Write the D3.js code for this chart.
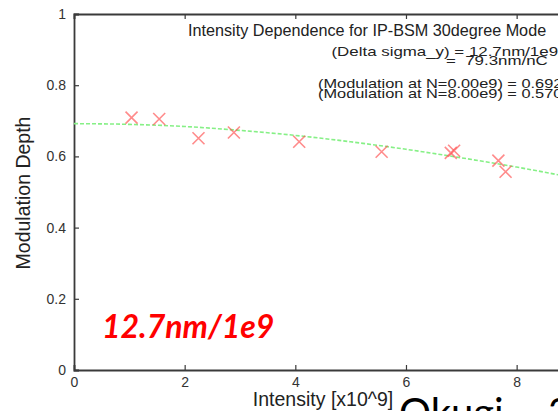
<!DOCTYPE html>
<html>
<head>
<meta charset="utf-8">
<script src="https://cdn.jsdelivr.net/npm/d3@7"></script>
<style>
  html, body { margin: 0; padding: 0; background: #fff; }
  svg { display: block; }
</style>
</head>
<body>
<div class="chart"></div>
<script>
// measured points (intensity in 1e9, modulation depth)
const intensity = [1.04, 1.54, 2.25, 2.89, 4.07, 5.56, 6.81, 6.87, 7.67, 7.80];
const modulation = [0.709, 0.705, 0.651, 0.667, 0.641, 0.613, 0.610, 0.616, 0.588, 0.557];

// fitted curve
const fitIntensity = [0, 1, 2, 3, 4, 5, 6, 7, 8, 9, 10];
const fitModulation = [0.692, 0.690, 0.684, 0.673, 0.659, 0.641, 0.620, 0.596, 0.570, 0.541, 0.511];

const xTicks = [0, 2, 4, 6, 8, 10];
const yTicks = [0, 0.2, 0.4, 0.6, 0.8, 1];

const titleText = "Intensity Dependence for IP-BSM 30degree Mode";
const infoLines = [
    "(Delta sigma_y) = 12.7nm/1e9",
    "=  79.3nm/nC",
    "(Modulation at N=0.00e9) = 0.692",
    "(Modulation at N=8.00e9) = 0.570"
];

const width = 558;
const height = 411;

const svg = d3.select(".chart")
    .append("svg")
    .attr("width", width)
    .attr("height", height)
    .style("font-family", "'Liberation Sans', Arial, sans-serif");

const x = d3.scaleLinear()
    .domain([0, 10])
    .range([74, 627.3]);

const y = d3.scaleLinear()
    .domain([0, 1])
    .range([370, 14]);

const axisColor = "#3a3a3a";

// Ejes
const gx = svg.append("g")
    .attr("transform", `translate(0,${y(0)})`)
    .call(d3.axisBottom(x).tickValues(xTicks).tickSize(-5).tickPadding(7).tickFormat(d3.format("d")));

const gTop = svg.append("g")
    .attr("transform", `translate(0,${y(1)})`)
    .call(d3.axisTop(x).tickValues(xTicks).tickSize(-5).tickFormat(""));

const gy = svg.append("g")
    .attr("transform", `translate(${x(0)},0)`)
    .call(d3.axisLeft(y).tickValues(yTicks).tickSize(-5).tickPadding(8)
        .tickFormat(d => d === 0 || d === 1 ? d3.format("d")(d) : d3.format(".1f")(d)));

[gx, gTop, gy].forEach(g => {
    g.select(".domain").attr("stroke", axisColor).attr("stroke-width", 1.8);
    g.selectAll(".tick line").attr("stroke", axisColor).attr("stroke-width", 1.2);
    g.selectAll(".tick text")
        .attr("fill", "#333")
        .style("font-size", "14px")
        .style("font-family", "'Liberation Sans', Arial, sans-serif");
});

// Curva ajustada
const fit = fitIntensity.map((d, i) => ({ x: d, y: fitModulation[i] }));

svg.append("path")
    .datum(fit)
    .attr("fill", "none")
    .attr("stroke", "#86f086")
    .attr("stroke-width", 1.6)
    .attr("stroke-dasharray", "4,2")
    .attr("d", d3.line().x(d => x(d.x)).y(d => y(d.y)).curve(d3.curveMonotoneX));

// Puntos
const points = intensity.map((d, i) => ({ x: d, y: modulation[i] }));

svg.selectAll(".pt")
    .data(points)
    .enter()
    .append("path")
    .attr("class", "pt")
    .attr("transform", d => `translate(${x(d.x)},${y(d.y)})`)
    .attr("d", "M-6,-6L6,6M-6,6L6,-6")
    .attr("stroke", "#ff4d4d")
    .attr("stroke-opacity", 0.65)
    .attr("stroke-width", 1.6)
    .attr("fill", "none");

// Textos
svg.append("text")
    .attr("x", 188)
    .attr("y", 36)
    .attr("fill", "#222")
    .style("font-size", "16.2px")
    .text(titleText);

const infoX = [331.5, 446, 318, 318];
const infoY = [55.5, 65.3, 87.5, 97.5];
const infoScale = [1.26, 1.26, 1.22, 1.22];

svg.selectAll(".info")
    .data(infoLines)
    .enter()
    .append("text")
    .attr("class", "info")
    .attr("transform", (d, i) => `translate(${infoX[i]},${infoY[i]}) scale(${infoScale[i]},1)`)
    .attr("fill", "#222")
    .style("font-size", "13.4px")
    .style("white-space", "pre")
    .attr("xml:space", "preserve")
    .text(d => d);

svg.append("text")
    .attr("transform", "translate(30,193) rotate(-90)")
    .attr("text-anchor", "middle")
    .attr("fill", "#222")
    .style("font-size", "19.5px")
    .text("Modulation Depth");

svg.append("text")
    .attr("x", 323)
    .attr("y", 405.5)
    .attr("text-anchor", "middle")
    .attr("fill", "#222")
    .style("font-size", "19.5px")
    .text("Intensity [x10^9]");

svg.append("text")
    .attr("x", 102)
    .attr("y", 338)
    .attr("fill", "#ff0000")
    .style("font-family", "Lato, 'Open Sans', sans-serif")
    .style("font-size", "32px")
    .style("font-weight", "bold")
    .style("font-style", "italic")
    .text("12.7nm/1e9");

const sign = svg.append("text")
    .attr("x", 399)
    .attr("y", 427)
    .attr("fill", "#000")
    .style("font-family", "Lato, 'Open Sans', sans-serif")
    .style("font-size", "40px");

sign.append("tspan").text("Okugi,");
sign.append("tspan").attr("x", 548).text("2");
</script>
</body>
</html>
